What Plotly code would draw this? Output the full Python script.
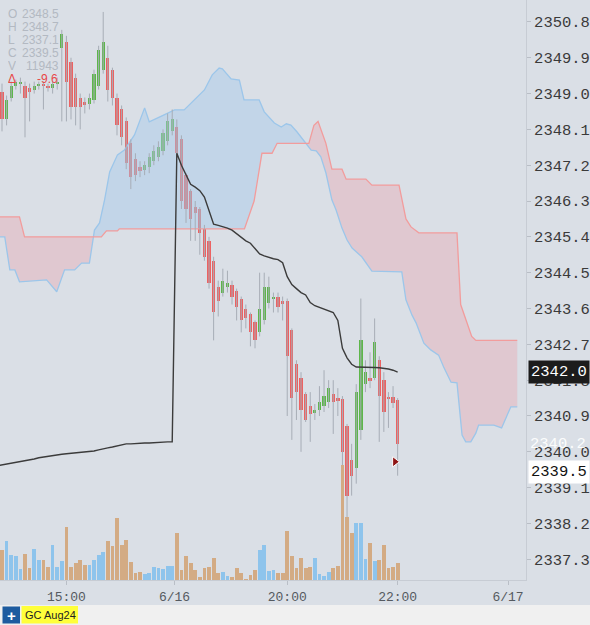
import numpy as np
import plotly.graph_objects as go

# ---------------- data ----------------
opens = [2349.05, 2348.35, 2348.9, 2349.2, 2349.25, 2349.2, 2349.15, 2349.1, 2349.2, 2349.25,
         2349.2, 2349.15, 2349.25, 2350.15, 2350.3, 2349.8, 2349.4, 2348.9, 2348.8, 2348.75,
         2348.85, 2349.2, 2349.6, 2349.9, 2349.6, 2348.9, 2348.6, 2348.3, 2347.75, 2347.35,
         2347.15, 2347.08, 2347.15, 2347.3, 2347.4, 2347.55, 2347.8, 2348.05, 2348.15, 2347.85,
         2346.95, 2346.55, 2346.15, 2346.1, 2345.6, 2345.3, 2344.8, 2344.15, 2344.0, 2344.15,
         2344.2, 2344.05, 2343.85, 2343.6, 2343.45, 2343.25, 2343.0, 2343.3, 2343.75, 2343.85,
         2343.9, 2343.78, 2343.78, 2343.05, 2342.2, 2341.85, 2341.45, 2341.15, 2340.98, 2341.05,
         2341.15, 2341.25, 2341.45, 2341.35, 2341.33, 2340.65, 2339.8, 2339.6, 2340.55, 2341.7,
         2341.85, 2341.85, 2342.3, 2341.8, 2341.38, 2341.38, 2341.3]
highs = [2349.25, 2348.95, 2349.3, 2349.35, 2349.4, 2349.3, 2349.25, 2349.3, 2349.3, 2349.3,
         2349.25, 2349.3, 2349.4, 2350.6, 2350.45, 2349.9, 2349.5, 2349.0, 2348.9, 2349.0,
         2349.6, 2350.2, 2351.05, 2350.2, 2349.65, 2349.0, 2348.7, 2348.4, 2347.85, 2347.5,
         2347.3, 2347.3, 2347.5, 2347.7, 2347.8, 2348.1, 2348.5, 2348.6, 2348.35, 2347.95,
         2347.0, 2346.6, 2346.3, 2346.15, 2345.7, 2345.4, 2344.9, 2344.3, 2344.6, 2344.55,
         2344.3, 2344.1, 2343.9, 2343.7, 2343.5, 2343.3, 2344.5, 2344.5, 2344.4, 2344.0,
         2344.0, 2343.9, 2343.85, 2343.1, 2342.3, 2342.0, 2341.5, 2341.5, 2341.2, 2341.65,
         2342.05, 2341.8, 2341.8, 2341.6, 2341.4, 2340.7, 2340.2, 2341.7, 2343.85, 2342.3,
         2342.5, 2343.35, 2342.4, 2342.0, 2341.5, 2341.65, 2341.35]
lows = [2348.05, 2348.2, 2348.8, 2349.1, 2349.0, 2347.9, 2348.3, 2349.0, 2349.1, 2348.6,
        2349.05, 2349.0, 2349.1, 2348.3, 2348.3, 2348.35, 2348.2, 2348.1, 2348.5, 2348.6,
        2348.75, 2349.1, 2349.5, 2348.8, 2348.7, 2347.95, 2347.7, 2347.1, 2346.6, 2346.8,
        2346.9, 2346.95, 2347.0, 2347.2, 2347.3, 2347.45, 2347.7, 2347.95, 2347.4, 2346.1,
        2345.75, 2345.3, 2345.3, 2344.95, 2344.8, 2344.1, 2342.8, 2343.4, 2343.9, 2344.0,
        2343.7, 2343.3, 2343.0, 2343.1, 2342.65, 2342.6, 2342.9, 2343.2, 2343.6, 2343.5,
        2343.5, 2343.3, 2340.9, 2340.3, 2340.8, 2340.0, 2340.75, 2340.25, 2340.8, 2340.9,
        2341.0, 2341.1, 2340.45, 2340.9, 2339.4, 2338.3, 2338.9, 2339.2, 2340.3, 2341.5,
        2341.6, 2341.8, 2340.25, 2340.5, 2340.6, 2341.1, 2339.4]
closes = [2348.35, 2348.85, 2349.2, 2349.3, 2349.3, 2348.9, 2349.05, 2349.2, 2349.25, 2349.2,
          2349.15, 2349.25, 2349.3, 2350.5, 2349.3, 2348.65, 2348.65, 2348.65, 2348.7, 2348.9,
          2349.5, 2350.1, 2350.3, 2349.1, 2348.9, 2348.2, 2347.9, 2347.25, 2346.9, 2346.95,
          2347.05, 2347.2, 2347.4, 2347.55, 2347.65, 2348.0, 2348.3, 2348.35, 2347.5, 2346.3,
          2346.1, 2345.85, 2346.0, 2345.5, 2344.9, 2344.25, 2343.5, 2343.8, 2344.3, 2344.25,
          2343.9, 2343.65, 2343.3, 2343.35, 2343.0, 2342.8, 2343.6, 2344.15, 2344.15, 2343.9,
          2343.65, 2343.72, 2342.4, 2341.35, 2341.5, 2341.05, 2340.8, 2340.95, 2341.05, 2341.25,
          2341.4, 2341.6, 2341.25, 2341.28, 2340.0, 2338.9, 2339.4, 2341.5, 2342.8, 2342.0,
          2341.8, 2342.75, 2341.4, 2341.0, 2341.33, 2341.23, 2340.2]
volumes = [300, 390, 250, 240, 110, 260, 120, 310, 200, 200,
           130, 350, 130, 190, 530, 130, 170, 200, 150, 150,
           200, 250, 280, 390, 340, 620, 350, 400, 180, 70,
           80, 60, 70, 130, 120, 110, 140, 140, 470, 100,
           240, 170, 100, 30, 120, 130, 220, 70, 80, 40,
           30, 120, 70, 10, 50, 100, 300, 350, 90, 100,
           70, 70, 490, 240, 120, 220, 120, 130, 220, 60,
           40, 80, 120, 140, 1150, 630, 470, 570, 570, 210,
           370, 190, 200, 350, 120, 130, 170]

# VWAP (bar index -1 .. 86), session reset at bar 38 (6/16 open)
vwap_start = -1
vwap = [2339.65, 2339.67, 2339.69, 2339.71, 2339.73, 2339.75, 2339.77, 2339.79, 2339.82, 2339.85,
        2339.87, 2339.89, 2339.90, 2339.92, 2339.94, 2339.95, 2339.96, 2339.97, 2339.98, 2339.99,
        2340.00, 2340.02, 2340.05, 2340.08, 2340.10, 2340.12, 2340.15, 2340.18, 2340.20, 2340.20,
        2340.21, 2340.21, 2340.22, 2340.22, 2340.23, 2340.23, 2340.24, 2340.25, 2340.25,
        2347.50, 2347.20, 2346.95, 2346.72, 2346.65, 2346.56, 2346.40, 2346.08, 2345.72, 2345.69,
        2345.66, 2345.62, 2345.57, 2345.48, 2345.37, 2345.30, 2345.24, 2345.10, 2344.97, 2344.92,
        2344.88, 2344.85, 2344.83, 2344.75, 2344.40, 2344.20, 2344.10, 2344.00, 2343.94, 2343.75,
        2343.67, 2343.63, 2343.60, 2343.56, 2343.50, 2343.30, 2342.60, 2342.36, 2342.20, 2342.13,
        2342.13, 2342.13, 2342.13, 2342.12, 2342.11, 2342.10, 2342.08, 2342.05, 2342.00]

# Ichimoku cloud spans (bar index, price), projected 26 bars ahead
span_a_x = [-0.5, 0.6, 1.7, 2.8, 3.8, 9.7, 11.9, 13.6, 15.8, 17.3,
            19.0, 20.1, 21.2, 22.3, 23.4, 25.1, 26.6, 28.8, 31.0, 32.0,
            34.2, 37.5, 39.6, 41.8, 44.0, 45.7, 47.2, 47.9, 49.8, 51.6,
            52.6, 55.9, 57.0, 59.2, 60.7, 61.8, 62.8, 64.1, 66.1, 67.2,
            68.3, 69.3, 70.4, 71.7, 72.6, 73.9, 75.0, 76.1, 78.2, 79.8,
            80.4, 86.9, 87.8, 89.1, 90.0, 91.7, 93.2, 94.9, 96.0, 97.6,
            98.9, 100.0, 100.8, 101.9, 103.0, 103.6, 106.9, 108.6, 110.6, 112]
span_a = [2345.40, 2345.40, 2344.57, 2344.57, 2344.27, 2344.32, 2344.02, 2344.57, 2344.57, 2344.74,
          2344.74, 2345.57, 2345.75, 2346.33, 2347.03, 2347.46, 2347.58, 2347.96, 2348.64, 2348.29,
          2348.41, 2348.59, 2348.59, 2348.84, 2349.09, 2349.47, 2349.64, 2349.62, 2349.37, 2349.34,
          2348.84, 2348.84, 2348.54, 2348.26, 2348.16, 2348.24, 2348.21, 2348.04, 2347.76, 2347.58,
          2347.56, 2347.41, 2347.01, 2346.33, 2346.08, 2345.62, 2345.32, 2345.12, 2344.90, 2344.64,
          2344.54, 2344.52, 2343.82, 2343.44, 2343.24, 2342.73, 2342.56, 2342.43, 2342.13, 2341.75,
          2341.73, 2340.42, 2340.25, 2340.25, 2340.47, 2340.67, 2340.67, 2340.60, 2341.13, 2341.13]
span_b_x = [-0.5, 3.8, 4.9, 21.6, 22.7, 25.1, 25.5, 52.7, 54.8, 56.5,
            58.7, 59.8, 66.7, 67.8, 68.7, 70.4, 71.7, 73.9, 74.8, 79.1,
            80.4, 86.3, 87.8, 88.9, 90.6, 98.9, 99.7, 102.1, 103.0, 112]
span_b = [2345.9, 2345.9, 2345.4, 2345.4, 2345.55, 2345.55, 2345.6, 2345.6, 2346.3, 2347.5,
          2347.5, 2347.75, 2347.75, 2348.2, 2348.3, 2347.75, 2347.1, 2347.1, 2346.85, 2346.85,
          2346.7, 2346.7, 2345.85, 2345.65, 2345.5, 2345.5, 2343.7, 2342.9, 2342.8, 2342.8]

x_tick_idx = [14, 37.5, 62, 86, 110]
x_tick_text = ["15:00", "6/16", "20:00", "22:00", "6/17"]
price_tick_text = ["2337.3", "2338.2", "2339.1", "2340.0", "2340.9", "2341.8", "2342.7", "2343.6",
                   "2344.5", "2345.4", "2346.3", "2347.2", "2348.1", "2349.0", "2349.9", "2350.8"]

header_labels = ["O", "H", "L", "C", "V"]
header_values = ["2348.5", "2348.7", "2337.1", "2339.5", "11943"]
delta_text = "-9.6"
vwap_last = 2342.0
last_price = 2339.5
last_bar_close_label = 2340.2
marker_price = 2339.75
symbol = "GC Aug24"

# ---------------- styling ----------------
BG = "#dadfe6"
GREEN = "#5db64a"
RED = "#ec6262"
WICK = "#a7adb6"
VOL_UP = "#8ec4ec"
VOL_DN = "#d3ab84"
MONO = "Liberation Mono, DejaVu Sans Mono, monospace"
SANS = "Liberation Sans, Arial, sans-serif"
HDR = "#b3b9c2"

W, H = 590, 625
PW, PH = 526, 580  # plot area px


def px(x):
    return x / PW


def py(y):
    return (PH - y) / PH


n = len(opens)
idx = np.arange(n)
o = np.array(opens); c = np.array(closes); hi = np.array(highs); lo = np.array(lows)
up = c >= o

fig = go.Figure()

# ---- cloud fill ----
grid = np.union1d(span_a_x, span_b_x)
ga = np.interp(grid, span_a_x, span_a)
gb = np.interp(grid, span_b_x, span_b)
xs, As, Bs = [grid[0]], [ga[0]], [gb[0]]
for k in range(1, len(grid)):
    d0 = ga[k - 1] - gb[k - 1]
    d1 = ga[k] - gb[k]
    if d0 * d1 < 0:
        t = d0 / (d0 - d1)
        xc = grid[k - 1] + t * (grid[k] - grid[k - 1])
        yc = ga[k - 1] + t * (ga[k] - ga[k - 1])
        xs.append(xc); As.append(yc); Bs.append(yc)
    xs.append(grid[k]); As.append(ga[k]); Bs.append(gb[k])
top = np.maximum(As, Bs)
clear = dict(width=0, color="rgba(0,0,0,0)")
fig.add_trace(go.Scatter(x=xs, y=Bs, mode="lines", line=clear, hoverinfo="skip"))
fig.add_trace(go.Scatter(x=xs, y=top, mode="lines", line=clear, fill="tonexty",
                         fillcolor="rgba(165,202,236,0.45)", hoverinfo="skip"))
fig.add_trace(go.Scatter(x=xs, y=As, mode="lines", line=clear, hoverinfo="skip"))
fig.add_trace(go.Scatter(x=xs, y=top, mode="lines", line=clear, fill="tonexty",
                         fillcolor="rgba(240,150,160,0.30)", hoverinfo="skip"))
fig.add_trace(go.Scatter(x=span_a_x, y=span_a, mode="lines",
                         line=dict(color="#9cc6ea", width=1.3), hoverinfo="skip"))
fig.add_trace(go.Scatter(x=span_b_x, y=span_b, mode="lines",
                         line=dict(color="#f29c9c", width=1.3), hoverinfo="skip"))

# ---- volume ----
fig.add_trace(go.Bar(x=idx, y=volumes, yaxis="y2", width=0.82,
                     marker=dict(color=[VOL_UP if u else VOL_DN for u in up], line=dict(width=0)),
                     hoverinfo="skip"))

# ---- wicks ----
wx, wy = [], []
for i in range(n):
    wx += [i, i, None]
    wy += [lo[i], hi[i], None]
fig.add_trace(go.Scatter(x=wx, y=wy, mode="lines", line=dict(color=WICK, width=1),
                         hoverinfo="skip"))

# ---- bodies ----
body_base = np.minimum(o, c)
body_h = np.maximum(np.abs(c - o), 0.03)
fig.add_trace(go.Bar(x=idx, y=body_h, base=body_base, width=0.72,
                     marker=dict(color=[GREEN if u else RED for u in up], line=dict(width=0)),
                     hoverinfo="skip"))

# ---- VWAP ----
vx = np.arange(vwap_start, vwap_start + len(vwap))
fig.add_trace(go.Scatter(x=vx, y=vwap, mode="lines", line=dict(color="#3b3b3b", width=1.4),
                         hoverinfo="skip"))

# ---- last price marker ----
fig.add_trace(go.Scatter(x=[n - 1 - 0.6], y=[marker_price], mode="markers",
                         marker=dict(symbol="triangle-right", size=9, color="#8e1414",
                                     line=dict(color="white", width=1)),
                         hoverinfo="skip"))

# ---------------- layout ----------------
price_ticks = [float(t) for t in price_tick_text]
annotations = []
rows_y = [14, 27, 40, 53, 66]
HFS = 12
for lab, val, yy in zip(header_labels, header_values, rows_y):
    annotations.append(dict(xref="paper", yref="paper", x=px(6), y=py(yy), xanchor="left",
                            yanchor="middle", text=lab, showarrow=False, height=12,
                            font=dict(family=SANS, size=HFS, color=HDR)))
    annotations.append(dict(xref="paper", yref="paper", x=px(61), y=py(yy), xanchor="right",
                            yanchor="middle", text=val, showarrow=False, height=12,
                            font=dict(family=SANS, size=HFS, color=HDR)))
annotations.append(dict(xref="paper", yref="paper", x=px(6), y=py(79), xanchor="left",
                        yanchor="middle", text="\u0394", showarrow=False, height=12,
                        font=dict(family=SANS, size=HFS, color="#e84848")))
annotations.append(dict(xref="paper", yref="paper", x=px(60), y=py(79), xanchor="right",
                        yanchor="middle", text=delta_text, showarrow=False, height=12,
                        font=dict(family=SANS, size=HFS, color="#e84848")))

# right-axis labels
annotations.append(dict(xref="paper", yref="y", x=1, xshift=2, y=vwap_last, xanchor="left",
                        yanchor="middle", text=f"{vwap_last:.1f}", showarrow=False,
                        bgcolor="#1c1c1c", borderpad=2,
                        font=dict(family=MONO, size=15.5, color="white")))
annotations.append(dict(xref="paper", yref="y", x=1, xshift=2, y=last_bar_close_label,
                        xanchor="left", yanchor="middle", text=f"{last_bar_close_label:.1f}",
                        showarrow=False, font=dict(family=MONO, size=15.5,
                                                   color="rgba(255,255,255,0.92)")))
annotations.append(dict(xref="paper", yref="y", x=1, xshift=2, y=last_price, xanchor="left",
                        yanchor="middle", text=f"{last_price:.1f}", showarrow=False,
                        bgcolor="white", borderpad=2,
                        font=dict(family=MONO, size=15.5, color="#111")))

# bottom strip items
annotations.append(dict(xref="paper", yref="paper", x=px(11.5), y=py(615), text="<b>+</b>",
                        showarrow=False, xanchor="center", yanchor="middle",
                        font=dict(family="Arial", size=15, color="white")))
annotations.append(dict(xref="paper", yref="paper", x=px(50), y=py(615), text=symbol,
                        showarrow=False, xanchor="center", yanchor="middle",
                        font=dict(family=SANS, size=11, color="#222")))

shapes = [
    dict(type="rect", xref="paper", yref="paper", x0=0, x1=px(W), y0=py(605), y1=py(H),
         fillcolor="#f0f0f0", line=dict(width=0), layer="below"),
    dict(type="rect", xref="paper", yref="paper", x0=px(2.5), x1=px(20), y0=py(606.5),
         y1=py(623.5), fillcolor="#1d5b9f", line=dict(width=0)),
    dict(type="rect", xref="paper", yref="paper", x0=px(21.5), x1=px(78), y0=py(606),
         y1=py(623.5), fillcolor="#ffff3a", line=dict(width=0)),
]

fig.update_layout(
    width=W, height=H,
    margin=dict(l=0, r=W - PW, t=0, b=H - PH),
    paper_bgcolor=BG, plot_bgcolor=BG,
    showlegend=False, barmode="overlay", bargap=0,
    annotations=annotations, shapes=shapes,
    xaxis=dict(range=[-0.435, 113.9], tickmode="array", tickvals=x_tick_idx,
               ticktext=x_tick_text, ticks="outside", ticklen=4, tickcolor="#b9bec6",
               showline=True, linecolor="#c7ccd4", showgrid=False, zeroline=False,
               tickfont=dict(family=MONO, size=13, color="#555a60"), fixedrange=True),
    yaxis=dict(range=[2336.78, 2351.35], side="right", tickmode="array",
               tickvals=price_ticks, ticktext=price_tick_text, ticks="outside", ticklen=4,
               tickcolor="#b9bec6", showline=True, linecolor="#c7ccd4", showgrid=False,
               zeroline=False, tickfont=dict(family=MONO, size=15.5, color="#3a3a3a"),
               fixedrange=True),
    yaxis2=dict(range=[0, 5800], overlaying="y", visible=False, fixedrange=True),
)

fig.write_html("out.html", config={"displayModeBar": False})
